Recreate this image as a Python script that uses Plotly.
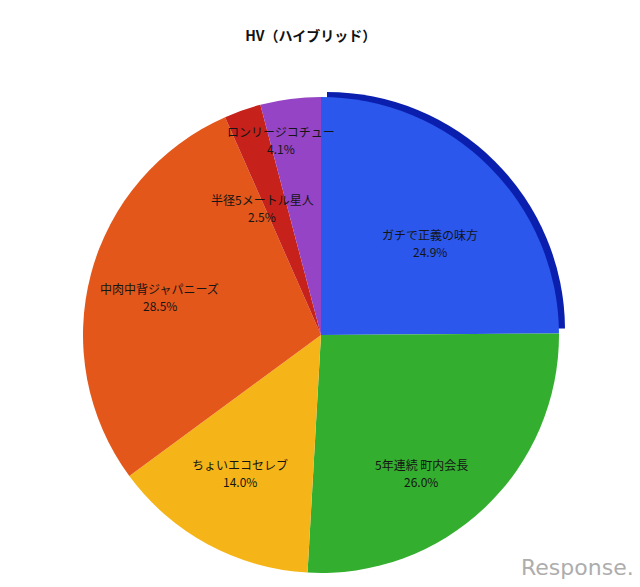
import math
import plotly.graph_objects as go

labels = ["ガチで正義の味方", "5年連続 町内会長", "ちょいエコセレブ", "中肉中背ジャパニーズ", "半径5メートル星人", "ロンリージコチュー"]
values = [24.9, 26.0, 14.0, 28.5, 2.5, 4.1]
colors = ["#2B57EC", "#33AE2E", "#F5B518", "#E4571A", "#C7211B", "#9444C4"]
rim_color = "#0B1FAE"
# label placement (layout only): radius fraction and angular nudge in degrees
label_radius = [0.60, 0.716, 0.672, 0.695, 0.588, 0.836]
label_nudge = [5.0, 7.6, 2.0, -1.8, -5.6, -4.2]

W, H = 640, 587
cx, cy, r = 313, 327, 238
dx, dy = 6, -5  # rim offset (px)

def dom(cx, cy, r):
    return dict(x=[(cx - r) / W, (cx + r) / W], y=[1 - (cy + r) / H, 1 - (cy - r) / H])

font = "Noto Sans CJK JP"

fig = go.Figure()
fig.add_trace(go.Pie(
    labels=labels, values=values, sort=False, direction="clockwise", rotation=0,
    domain=dom(cx + dx, cy + dy, r),
    marker=dict(colors=[rim_color] + ["rgba(0,0,0,0)"] * (len(values) - 1), line=dict(width=0)),
    textinfo="none", hoverinfo="skip", showlegend=False,
))
fig.add_trace(go.Pie(
    labels=labels, values=values, sort=False, direction="clockwise", rotation=0,
    domain=dom(cx, cy, r),
    marker=dict(colors=colors, line=dict(width=0)),
    textinfo="none",
    showlegend=False,
))

total = sum(values)
annotations = []
cum = 0.0
for lab, v, fr, nd in zip(labels, values, label_radius, label_nudge):
    mid = (cum + v / 2) / total * 2 * math.pi + math.radians(nd)
    cum += v
    px = cx + fr * r * math.sin(mid)
    py = cy - fr * r * math.cos(mid)
    for txt, shift in ((lab, 8.5), (f"{v / total * 100:.1f}%", -8.5)):
        annotations.append(dict(
            text=txt, x=px / W, y=1 - py / H, yshift=shift,
            xref="paper", yref="paper", showarrow=False,
            xanchor="center", yanchor="middle",
            font=dict(family=font, size=12, color="#151515"),
        ))

annotations.append(dict(text="Response.", x=0.982, y=0.046, xref="paper", yref="paper", showarrow=False,
                        xanchor="right", yanchor="middle",
                        font=dict(family="DejaVu Sans", size=22, color="#adadad")))

fig.update_layout(
    width=W, height=H,
    margin=dict(l=0, r=0, t=0, b=0),
    paper_bgcolor="white", plot_bgcolor="white",
    title=dict(text="<b>HV（ハイブリッド）</b>", x=0.473, xanchor="center", y=0.952, yanchor="middle",
               font=dict(family=font, size=14, color="#111111")),
    annotations=annotations,
)
fig.write_html("out.html")
